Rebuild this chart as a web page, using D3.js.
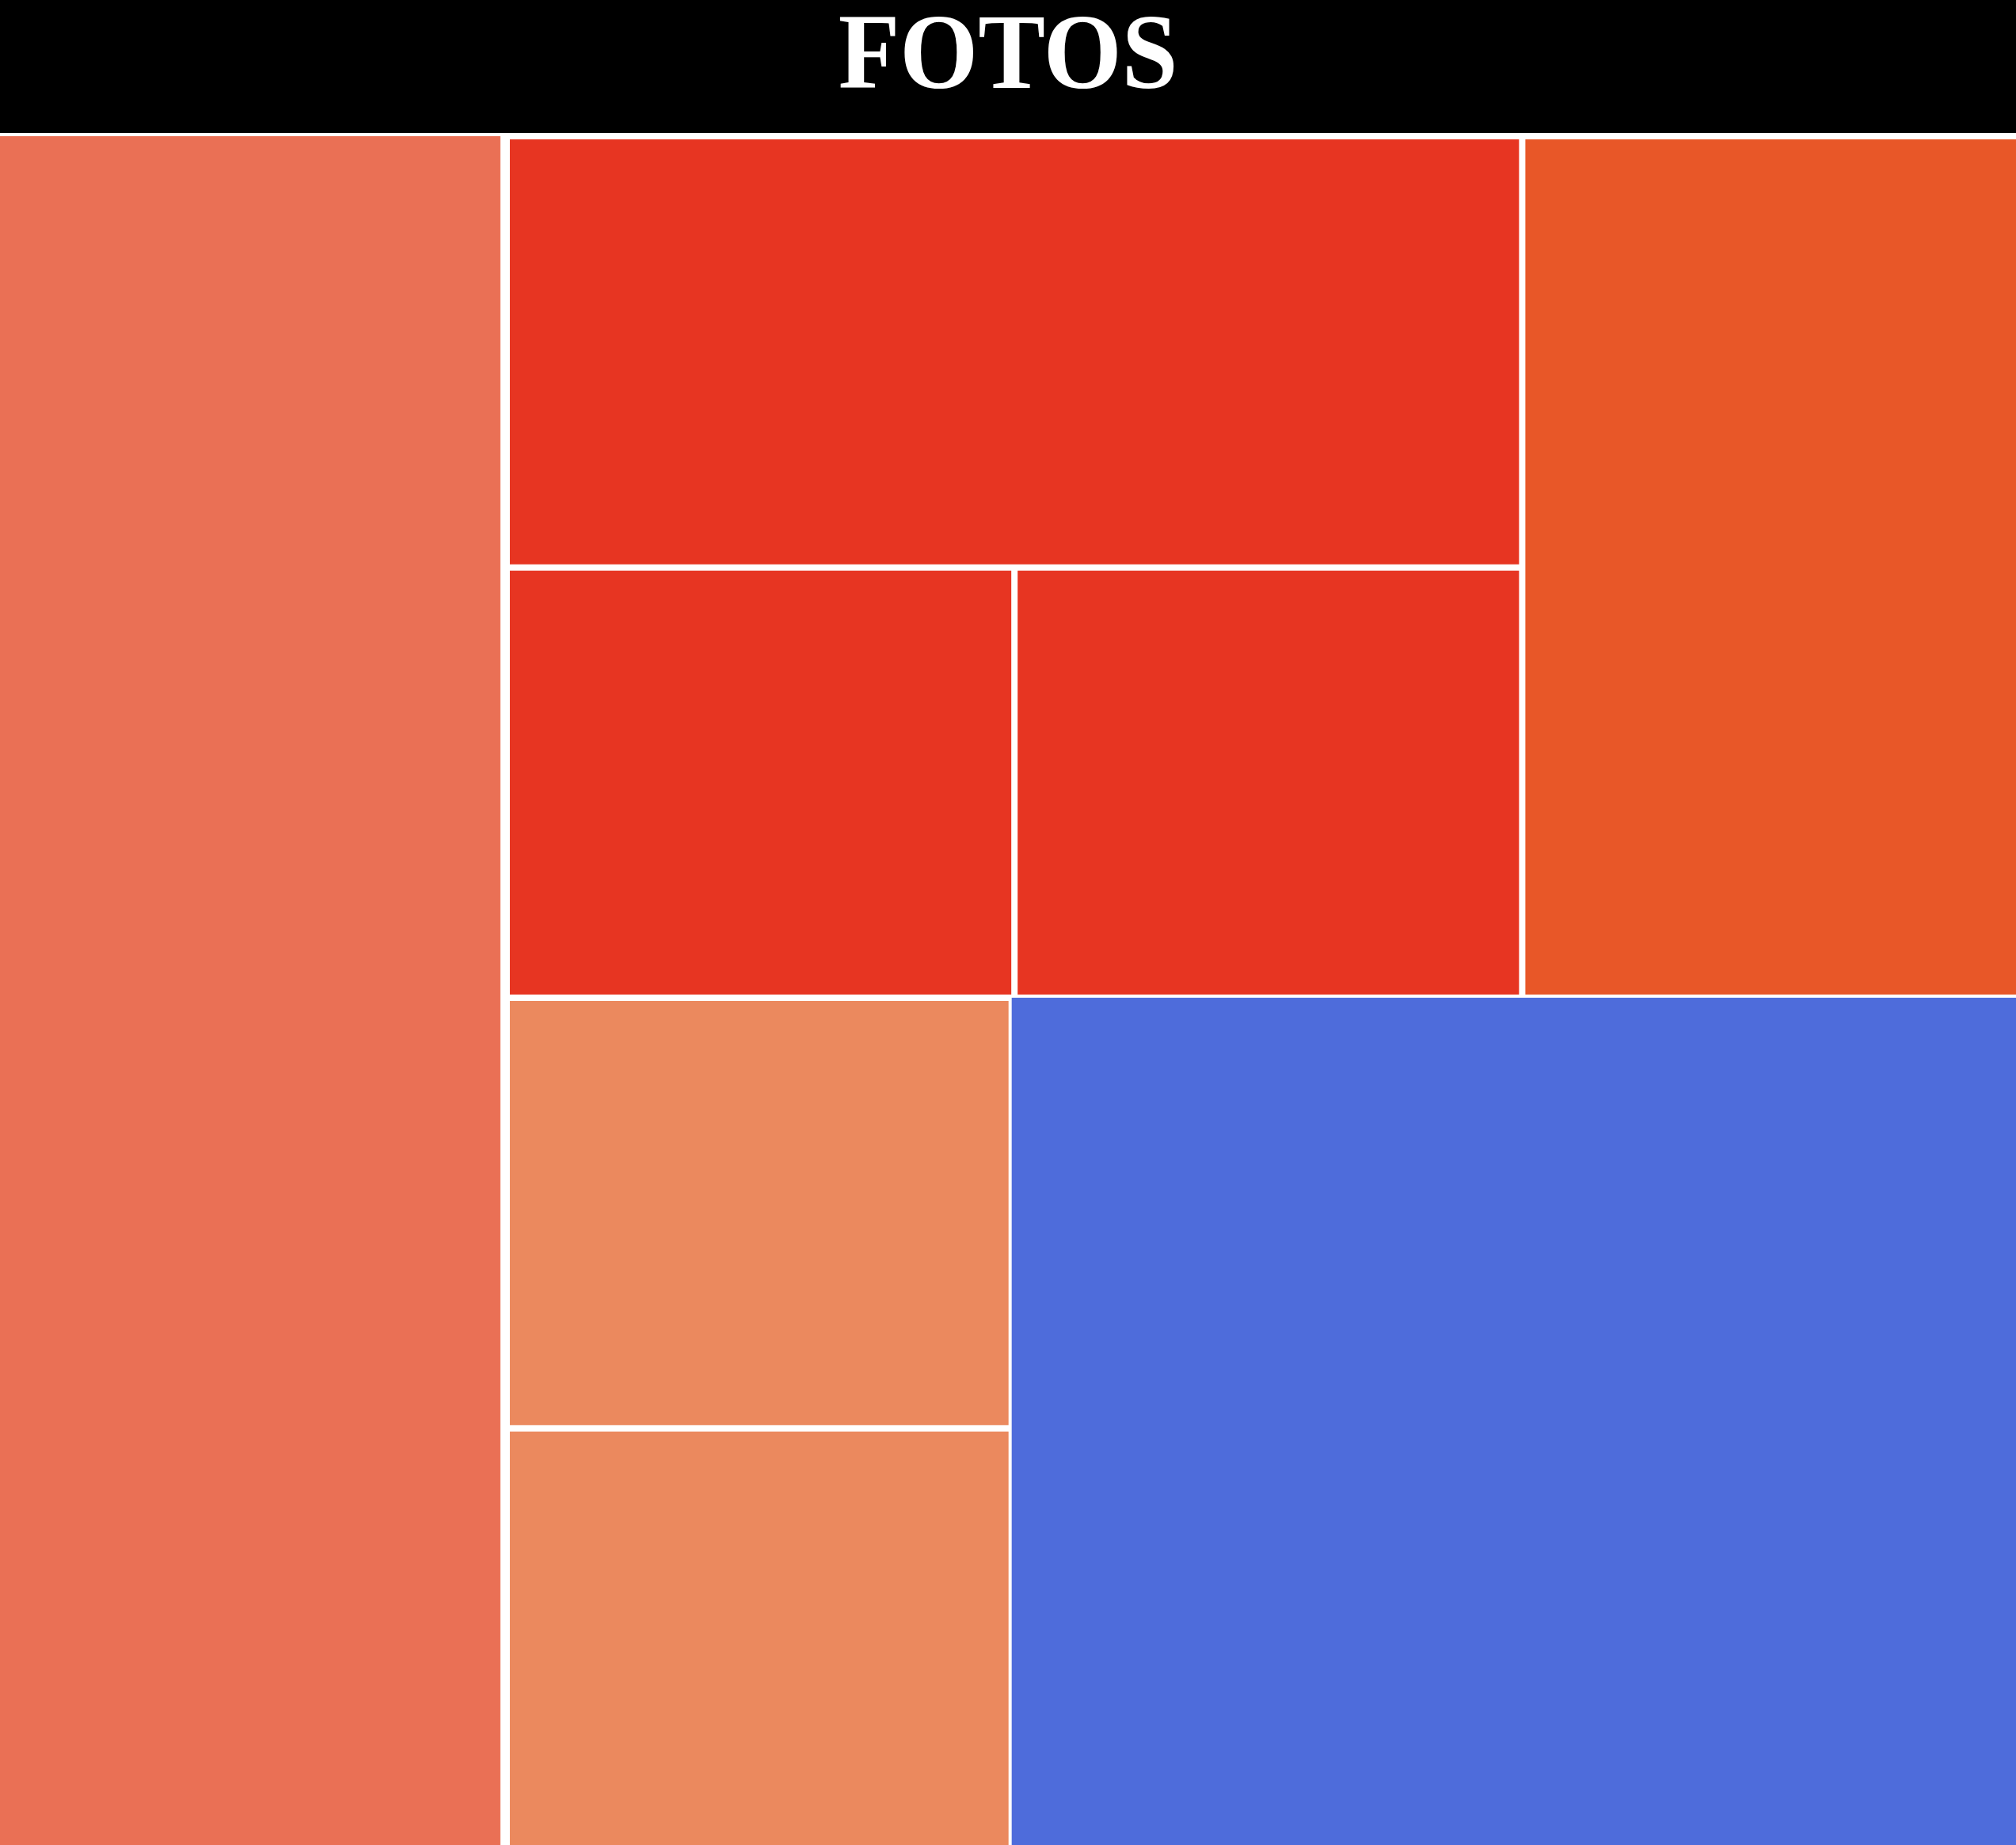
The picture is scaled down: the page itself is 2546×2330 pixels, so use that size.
<!DOCTYPE html>
<html>
<head>
<meta charset="utf-8">
<script src="https://cdn.jsdelivr.net/npm/d3@7"></script>
<style>
  html, body { margin: 0; padding: 0; background: #ffffff; overflow: hidden; }
  svg { display: block; }
</style>
</head>
<body>
<script>
// ---- Data ----
const title = "FOTOS";
// leaf names, their group path, values and colours
const leafNames  = ["S", "A", "B", "C", "O", "D", "E", "Bl"];
const leafPaths  = [
  ["S"],
  ["G", "Top", "Red", "A"],
  ["G", "Top", "Red", "BC", "B"],
  ["G", "Top", "Red", "BC", "C"],
  ["G", "Top", "O"],
  ["G", "Bot", "Peach", "D"],
  ["G", "Bot", "Peach", "E"],
  ["G", "Bot", "Bl"]
];
const leafValues = [799, 401, 200, 200, 392, 199, 194, 789];
const leafColors = ["#EA7055", "#E73522", "#E73522", "#E73522", "#E85728", "#EB895E", "#EB895E", "#4E6CDB"];

// ---- Layout constants ----
const W = 2546, H = 2330;
const headerH = 168, gapTop = 4;

// build hierarchy from paths
function buildTree() {
  const root = { name: "root", children: [] };
  leafPaths.forEach((path, i) => {
    let node = root;
    path.forEach((p, k) => {
      if (k === path.length - 1) {
        node.children.push({ name: p, value: leafValues[i], color: leafColors[i] });
      } else {
        let c = node.children.find(d => d.name === p);
        if (!c) { c = { name: p, children: [] }; node.children.push(c); }
        node = c;
      }
    });
  });
  return root;
}

const svg = d3.select("body").append("svg")
  .attr("width", W).attr("height", H);

// header
svg.append("rect").attr("x", 0).attr("y", 0).attr("width", W).attr("height", headerH).attr("fill", "#000000");
svg.append("text")
  .attr("transform", `translate(${W / 2},111) scale(0.935,1)`)
  .attr("x", 0).attr("y", 0)
  .attr("text-anchor", "middle")
  .attr("font-family", "'Liberation Serif', 'Times New Roman', serif")
  .attr("font-weight", "bold")
  .attr("font-size", 136)
  .attr("fill", "#ffffff")
  .text(title);

const innerPad = { root: 12, G: 4, Top: 8, Red: 8, BC: 8, Bot: 4, Peach: 8 };
const topPad = { G: 4, Peach: 4 };

const root = d3.hierarchy(buildTree()).sum(d => d.value || 0);

d3.treemap()
  .size([W, H - headerH - gapTop])
  .tile(d3.treemapSliceDice)
  .paddingInner(d => innerPad[d.data.name] || 0)
  .paddingTop(d => topPad[d.data.name] || 0)
  (root);

const g = svg.append("g").attr("transform", `translate(0,${headerH + gapTop})`);
g.selectAll("rect.leaf")
  .data(root.leaves())
  .join("rect")
  .attr("class", "leaf")
  .attr("x", d => d.x0)
  .attr("y", d => d.y0)
  .attr("width", d => Math.max(0, d.x1 - d.x0))
  .attr("height", d => Math.max(0, d.y1 - d.y0))
  .attr("fill", d => d.data.color);
</script>
</body>
</html>
